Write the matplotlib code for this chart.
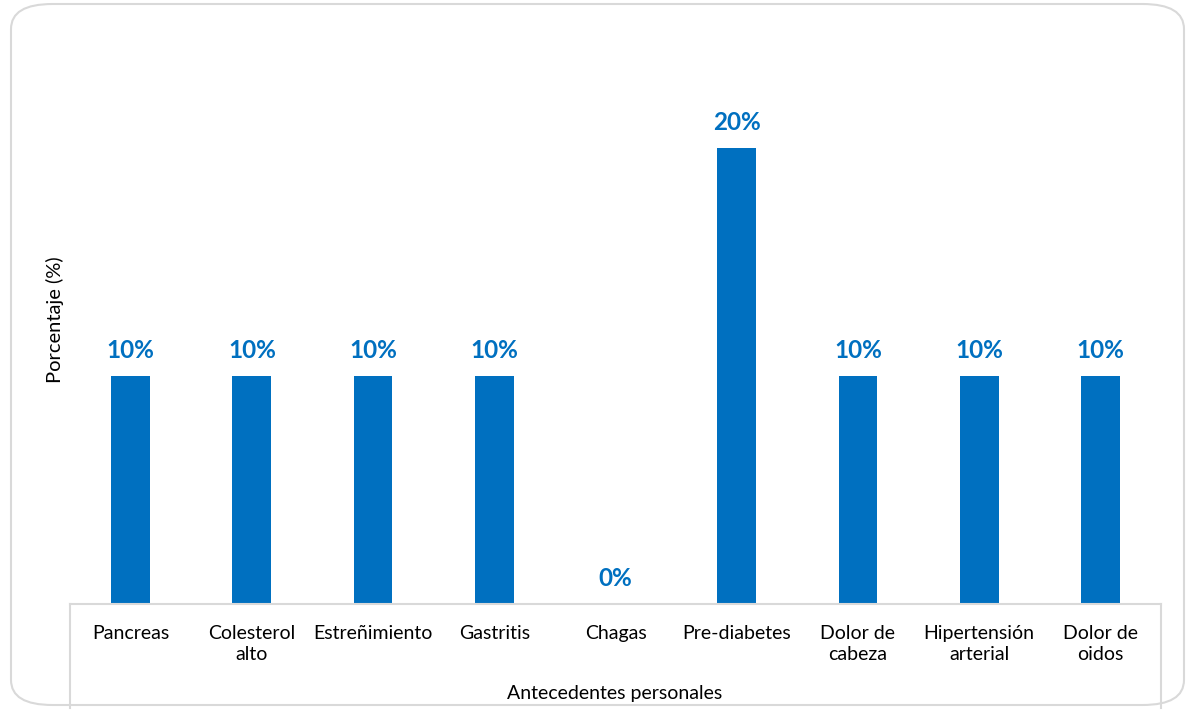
import matplotlib.pyplot as plt
from matplotlib.patches import FancyBboxPatch
from matplotlib.lines import Line2D

# Antecedentes personales (porcentaje de casos)
categorias = ['Pancreas', 'Colesterol\nalto', 'Estreñimiento', 'Gastritis', 'Chagas',
              'Pre-diabetes', 'Dolor de\ncabeza', 'Hipertensión\narterial', 'Dolor de\noidos']
porcentajes = [10, 10, 10, 10, 0, 20, 10, 10, 10]

azul = '#0070C0'
gris = '#D9D9D9'

plt.rcParams['font.family'] = ['Lato', 'DejaVu Sans']

fig = plt.figure(figsize=(11.86, 7.15), dpi=100)
W, H = 1186, 715

# marco redondeado del grafico
marco = FancyBboxPatch((11 / W, 10 / H), 1173 / W, 701 / H,
                       boxstyle='round,pad=0,rounding_size=0.035',
                       transform=fig.transFigure, fill=False,
                       edgecolor=gris, linewidth=1.5)
fig.patches.append(marco)

ax = fig.add_axes([70 / W, (H - 604) / H, (1161 - 70) / W, (604 - 30) / H])
x = range(len(categorias))
ax.bar(x, porcentajes, width=0.32, color=azul)
ax.set_xlim(-0.5, len(categorias) - 0.5)
ax.set_ylim(0, 25.18)

for xi, v in zip(x, porcentajes):
    ax.annotate(f'{v}%', (xi, v), xytext=(0, 10), textcoords='offset points',
                ha='center', va='bottom', fontsize=17.5, fontweight='bold', color=azul)

for s in ['top', 'left', 'right']:
    ax.spines[s].set_visible(False)
ax.spines['bottom'].set_color(gris)
ax.spines['bottom'].set_linewidth(1.5)
ax.set_yticks([])
ax.set_xticks(list(x))
ax.set_xticklabels(categorias, fontsize=14, color='#000000', linespacing=1.3)
ax.tick_params(axis='x', length=0, pad=15)

# lineas verticales de la tabla del eje
for px in (70, 1161):
    fig.add_artist(Line2D([px / W, px / W], [(H - 604) / H, (H - 708) / H],
                          transform=fig.transFigure, color=gris, linewidth=1.5))

fig.text(615 / W, (H - 694) / H, 'Antecedentes personales', ha='center', va='center', fontsize=14)
fig.text(55 / W, (H - 320) / H, 'Porcentaje (%)', ha='center', va='center',
         rotation=90, fontsize=14.5)

fig.savefig('out.png', dpi=100)
